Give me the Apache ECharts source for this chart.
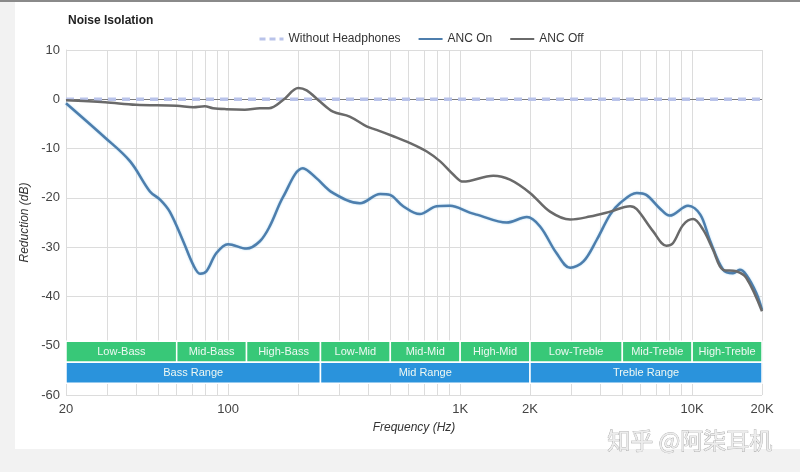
<!DOCTYPE html>
<html>
<head>
<meta charset="utf-8">
<script src="https://cdn.jsdelivr.net/npm/echarts@6/dist/echarts.min.js"></script>
<style>
html,body{margin:0;padding:0;background:#f2f2f2;}
#c{width:800px;height:472px;}
</style>
</head>
<body>
<div id="c"></div>
<script>
// ---- data ----
const xLabelTicks = [20, 100, 1000, 2000, 10000, 20000];
const xGridTicks = [20,30,40,50,60,70,80,90,100,200,300,400,500,600,700,800,900,1000,2000,3000,4000,5000,6000,7000,8000,9000,10000,20000];

const baselineFreq = [20, 20000];
const baselineDb = [0, 0];

const ancOnFreq = [20, 29.5, 37.8, 46, 51, 56, 64, 70.7, 75.7, 80.6, 89, 100, 120, 137, 151, 173, 210, 240, 283, 370, 452, 498, 568, 670, 792, 904, 1100, 1178, 1586, 1938, 2210, 2600, 2980, 3400, 3880, 4430, 4880, 5770, 6340, 7240, 8000, 9600, 10840, 11900, 13600, 15000, 16040, 17100, 18900, 20000];
const ancOnDb =   [-0.8, -7.8, -12.6, -18.7, -20.4, -22.8, -28.8, -33.6, -35.4, -34.9, -31.2, -29.4, -30.3, -28.8, -25.8, -19.7, -14.0, -16.0, -19.0, -21.1, -19.2, -19.4, -21.7, -23.3, -21.7, -21.6, -23.0, -23.4, -25.0, -23.9, -25.8, -31.2, -34.2, -32.9, -28.5, -23.4, -21.1, -19.0, -19.4, -22.1, -23.6, -21.6, -23.4, -28.5, -34.6, -35.3, -34.6, -35.6, -39.3, -42.7];

const ancOffFreq = [20, 29.5, 40, 60, 70.7, 79.3, 86, 98, 118, 137, 150, 173, 200.6, 218, 248, 283, 334, 395, 436, 515, 608, 718, 820, 936, 1030, 1390, 1640, 2000, 2440, 2980, 3620, 4430, 5400, 5770, 6790, 7740, 8260, 9140, 10100, 11160, 12300, 13600, 15500, 17100, 20000];
const ancOffDb =   [-0.2, -0.6, -1.1, -1.3, -1.6, -1.4, -1.8, -2.0, -2.1, -1.8, -1.8, -0.1, 2.3, 1.8, -0.4, -2.5, -3.5, -5.5, -6.2, -7.5, -8.9, -10.6, -12.6, -15.3, -16.7, -15.5, -16.3, -19.0, -22.8, -24.4, -23.8, -22.8, -21.7, -22.3, -26.8, -29.7, -29.2, -25.5, -24.3, -26.5, -30.5, -34.6, -34.9, -36.2, -43.0];

const bandNames = ['Low-Bass','Mid-Bass','High-Bass','Low-Mid','Mid-Mid','High-Mid','Low-Treble','Mid-Treble','High-Treble'];
const bandEdges = [20, 60, 120, 250, 500, 1000, 2000, 5000, 10000, 20000];
const rangeNames = ['Bass Range','Mid Range','Treble Range'];
const rangeEdges = [20, 250, 2000, 20000];

// ---- helpers ----
const zip = (a, b) => a.map((v, i) => [v, b[i]]);
const fmtHz = v => v >= 1000 ? (v / 1000) + 'K' : String(v);

const FONT = '"Liberation Sans", Arial, sans-serif';

const bandAreas = bandNames.map((n, i) => [
  { name: n, xAxis: bandEdges[i], yAxis: -49.1, itemStyle: { color: '#38c878' } },
  { xAxis: bandEdges[i + 1], yAxis: -53.35 }
]);
const rangeAreas = rangeNames.map((n, i) => [
  { name: n, xAxis: rangeEdges[i], yAxis: -53.35, itemStyle: { color: '#2a93dc' } },
  { xAxis: rangeEdges[i + 1], yAxis: -57.6 }
]);

const chart = echarts.init(document.getElementById('c'), null, { renderer: 'canvas' });
chart.setOption({
  backgroundColor: '#f2f2f2',
  animation: false,
  textStyle: { fontFamily: FONT },
  graphic: [
    { type: 'rect', z: -10, silent: true, shape: { x: 15, y: 2, width: 785, height: 447 }, style: { fill: '#ffffff' } },
    { type: 'rect', z: -10, silent: true, shape: { x: 0, y: 0, width: 800, height: 2 }, style: { fill: '#8a8a8a' } },
    { type: 'text', z: 10, silent: true, left: 607, top: 428,
      style: { text: '知乎 @阿柒耳机', font: '23px "Noto Sans CJK SC", sans-serif', fill: '#ececec', stroke: '#a0a0a0', lineWidth: 0.7 } }
  ],
  title: {
    text: 'Noise Isolation', left: 63, top: 10,
    textStyle: { fontSize: 12, fontWeight: 'bold', color: '#222', fontFamily: FONT }
  },
  legend: {
    top: 28, left: 253,
    itemWidth: 24, itemHeight: 10, itemGap: 17,
    itemStyle: { opacity: 0 },
    textStyle: { fontSize: 12, color: '#333', fontFamily: FONT },
    data: [
      { name: 'Without Headphones', lineStyle: { type: [6, 4], width: 3 } },
      'ANC On',
      'ANC Off'
    ]
  },
  grid: { left: 66, right: 38, top: 50, bottom: 77 },
  xAxis: {
    type: 'log', logBase: 10, min: 20, max: 20000,
    name: 'Frequency (Hz)', nameLocation: 'middle', nameGap: 27,
    nameTextStyle: { fontStyle: 'italic', fontSize: 12, color: '#333', fontFamily: FONT },
    axisLine: { show: true, lineStyle: { color: '#dcdcdc' } },
    axisTick: { show: false, customValues: xGridTicks },
    axisLabel: { customValues: xLabelTicks, formatter: fmtHz, color: '#444', fontSize: 13, margin: 8 },
    splitLine: { show: true, lineStyle: { color: '#dcdcdc', width: 1 } },
    minorTick: { show: false }, minorSplitLine: { show: false }
  },
  yAxis: {
    type: 'value', min: -60, max: 10, interval: 10,
    name: 'Reduction (dB)', nameLocation: 'middle', nameGap: 32,
    nameTextStyle: { fontStyle: 'italic', fontSize: 12, color: '#333', fontFamily: FONT },
    axisLine: { show: true, lineStyle: { color: '#dcdcdc' } },
    axisTick: { show: false },
    axisLabel: { color: '#444', fontSize: 13, margin: 6 },
    splitLine: { show: true, lineStyle: { color: '#dcdcdc', width: 1 } }
  },
  series: [
    {
      name: 'bands', type: 'line', data: [], silent: true, z: 1,
      markArea: {
        silent: true,
        itemStyle: { borderColor: '#ffffff', borderWidth: 1.5 },
        label: { show: true, position: 'inside', color: '#eef8f2', fontSize: 11, fontFamily: FONT },
        data: bandAreas.concat(rangeAreas)
      }
    },
    {
      name: 'Without Headphones', type: 'line', showSymbol: false, symbol: 'none', z: 3,
      data: zip(baselineFreq, baselineDb),
      lineStyle: { color: '#b9c3ea', width: 3.5, type: [8, 6] },
      itemStyle: { color: '#b9c3ea' },
      markLine: {
        silent: true, symbol: 'none', label: { show: false }, z: 2,
        lineStyle: { color: '#7a7a7a', width: 1, type: 'solid' },
        data: [{ yAxis: 0 }]
      }
    },
    {
      name: 'ANC On', type: 'line', showSymbol: false, symbol: 'none', smooth: 0.35, z: 4,
      data: zip(ancOnFreq, ancOnDb),
      lineStyle: { color: '#4d7ead', width: 2.5, shadowColor: 'rgba(120,190,230,0.6)', shadowBlur: 2 },
      itemStyle: { color: '#4d7ead' }
    },
    {
      name: 'ANC Off', type: 'line', showSymbol: false, symbol: 'none', smooth: 0.35, z: 4,
      data: zip(ancOffFreq, ancOffDb),
      lineStyle: { color: '#6a6a6a', width: 2.5 },
      itemStyle: { color: '#6a6a6a' }
    }
  ]
});
</script>
</body>
</html>
